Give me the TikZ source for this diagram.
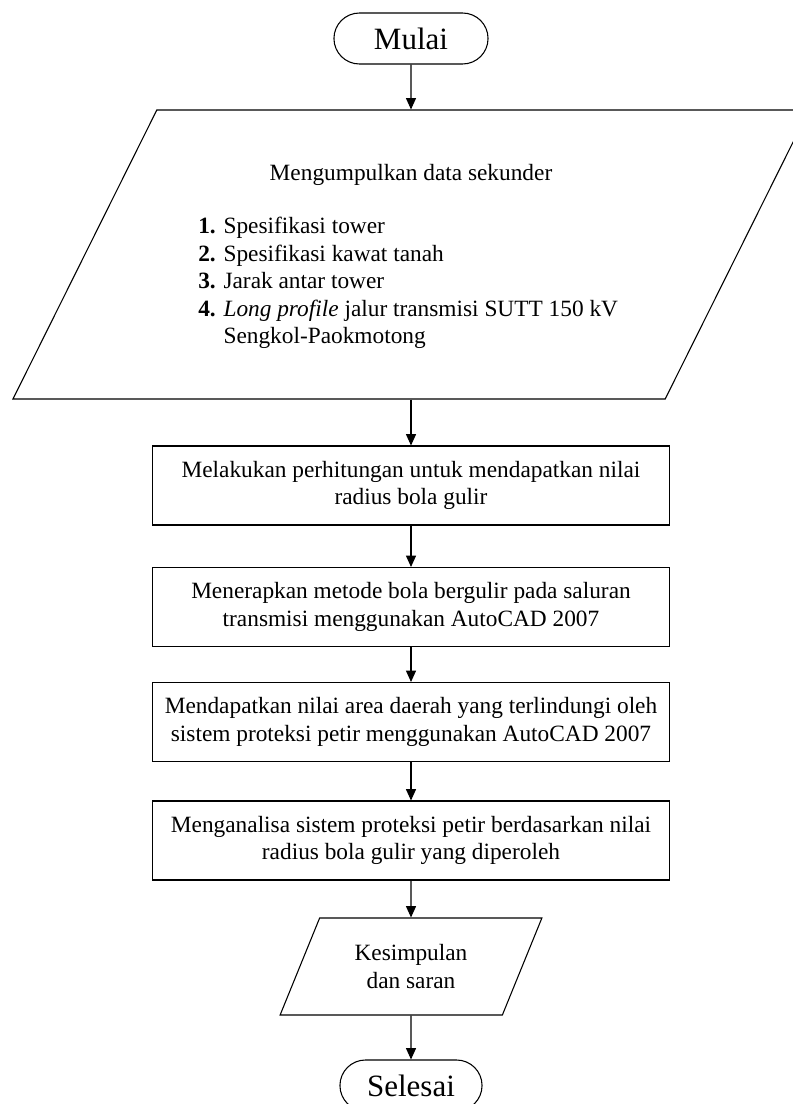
\documentclass[tikz,border=0pt]{standalone}
\usepackage{fontspec}
\setmainfont{Liberation Serif}
\usetikzlibrary{shapes.geometric, shapes.misc, arrows.meta}

\begin{document}
\begin{tikzpicture}[x=0.75pt, y=-0.75pt,
    terminal/.style={draw, rounded rectangle, line width=0.8pt,
        minimum height=38.25pt, font=\fontsize{23.25}{27}\selectfont},
    proses/.style={draw, rectangle, line width=0.8pt, minimum width=387.75pt,
        minimum height=59.25pt, align=center, font=\fontsize{17.5}{20.6}\selectfont},
    datain/.style={draw, trapezium, trapezium left angle=63.5,
        trapezium right angle=116.5, trapezium stretches=true, line width=0.8pt,
        align=center, font=\fontsize{17.5}{20.6}\selectfont},
    panah/.style={-{Triangle[width=7.5pt,length=8.5pt]}, line width=0.8pt}]

\useasboundingbox (0,0) rectangle (793,1104);

% ---- MULAI ----
\node[terminal, minimum width=122.25pt] (mulai) at (411,38.5) {Mulai};

% ---- DATA SEKUNDER ----
\node[datain, trapezium left angle=74.2, trapezium right angle=105.8,
    minimum width=597pt, minimum height=216.75pt] (data) at (411,254.5) {};
\node[font=\fontsize{17.5}{20.6}\selectfont] (judul) at (411,175) {Mengumpulkan data sekunder};
\node[anchor=west, inner sep=0pt, align=left, font=\fontsize{17.5}{20.6}\selectfont]
    (daftar) at (198,283) {%
    \textbf{1.} Spesifikasi tower\\
    \textbf{2.} Spesifikasi kawat tanah\\
    \textbf{3.} Jarak antar tower\\
    \textbf{4.} \textit{Long profile} jalur transmisi SUTT 150 kV\\
    \phantom{\textbf{4.} }Sengkol-Paokmotong};

% ---- PROSES ----
\node[proses] (hitung) at (411,485.5)
    {Melakukan perhitungan untuk mendapatkan nilai\\ radius bola gulir};
\node[proses] (terap) at (411,607)
    {Menerapkan metode bola bergulir pada saluran\\ transmisi menggunakan AutoCAD 2007};
\node[proses] (area) at (411,722)
    {Mendapatkan nilai area daerah yang terlindungi oleh\\ sistem proteksi petir menggunakan AutoCAD 2007};
\node[proses] (analisa) at (411,840.5)
    {Menganalisa sistem proteksi petir berdasarkan nilai\\ radius bola gulir yang diperoleh};

% ---- KESIMPULAN ----
\node[datain, minimum width=196.5pt, minimum height=72.75pt] (simpul) at (411,966.5)
    {Kesimpulan\\ dan saran};

% ---- SELESAI ----
\node[terminal, minimum width=113.25pt] (selesai) at (411,1085.5) {Selesai};

% Panah
\draw[panah] (mulai) -- (data);
\draw[panah] (data) -- (hitung);
\draw[panah] (hitung) -- (terap);
\draw[panah] (terap) -- (area);
\draw[panah] (area) -- (analisa);
\draw[panah] (analisa) -- (simpul);
\draw[panah] (simpul) -- (selesai);

\end{tikzpicture}
\end{document}
